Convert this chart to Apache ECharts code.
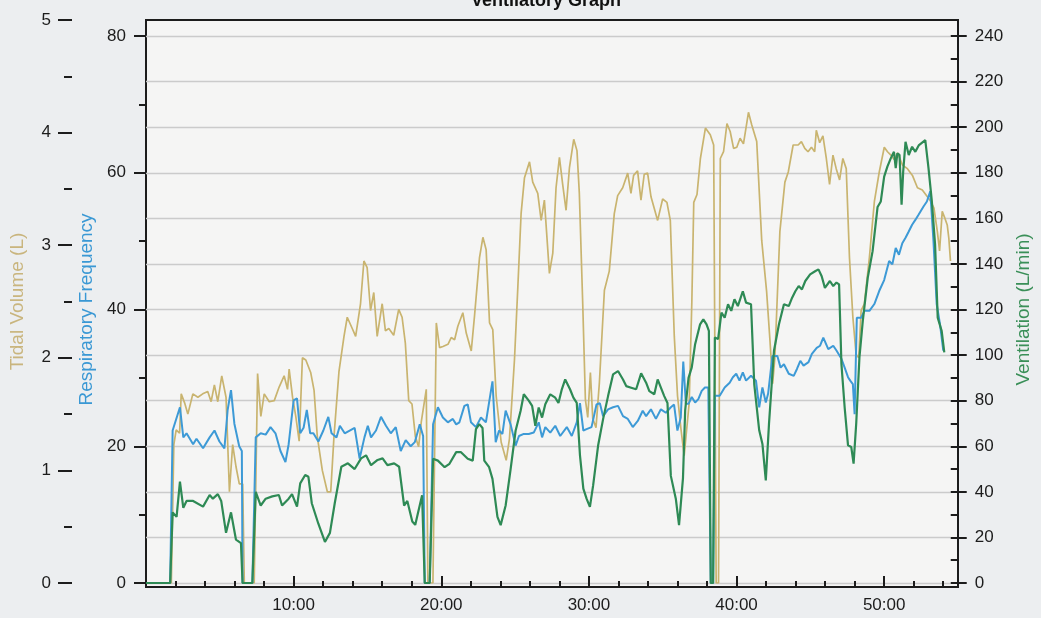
<!DOCTYPE html>
<html><head><meta charset="utf-8">
<script src="https://cdn.jsdelivr.net/npm/echarts@6/dist/echarts.min.js"></script>
<style>html,body{margin:0;padding:0;background:#eceef0}#c{width:1041px;height:618px}</style>
</head><body><div id="c"></div>
<script>
// Time in minutes for each series
const veTime = [0,1.65,1.82,2.09,2.32,2.55,2.77,3.22,3.9,4.35,4.57,4.91,5.14,5.47,5.81,6.15,6.49,6.6,7.27,7.5,7.84,8.18,8.63,9.08,9.3,9.75,9.98,10.32,10.54,10.88,11.1,11.33,11.78,12.23,12.57,12.9,13.35,13.8,14.26,14.7,15.04,15.38,15.83,16.17,16.5,16.96,17.3,17.64,17.86,18.2,18.4,18.6,18.87,19.05,19.39,19.62,19.95,20.41,20.74,21.2,21.53,21.99,22.33,22.55,22.78,23.0,23.12,23.45,23.68,24.02,24.24,24.58,24.92,25.26,25.6,25.82,26.16,26.39,26.61,26.84,27.07,27.29,27.63,27.97,28.19,28.42,28.65,28.98,29.21,29.44,29.66,29.89,30.11,30.34,30.56,30.9,31.24,31.58,31.92,32.26,32.6,32.82,33.16,33.5,33.84,34.18,34.4,34.74,34.97,35.19,35.42,35.64,35.87,36.21,36.43,36.7,36.85,37.08,37.3,37.53,37.87,38.09,38.31,38.47,38.6,38.76,38.88,39.1,39.33,39.55,39.78,40.0,40.22,40.45,40.79,41.01,41.35,41.57,41.91,42.13,42.36,42.58,42.92,43.26,43.6,43.93,44.16,44.38,44.61,44.83,45.06,45.39,45.73,45.96,46.18,46.4,46.74,46.97,47.19,47.37,47.53,47.75,47.98,48.2,48.36,48.54,48.76,48.99,49.33,49.66,50.0,50.22,50.45,50.67,50.9,51.12,51.24,51.35,51.5,51.64,51.75,51.91,52.13,52.36,52.58,52.81,53.26,53.48,53.71,53.93,54.11,54.38,54.56];
const veVals = [0,0,31,29,44.5,33,36,36,33.5,38.6,37,39,36,22,31,19,17.5,0,0,40,34,37,38,38.6,34,37,39,33.5,43.7,47.4,46.6,35,26,18,22,35,51,52.5,50,54.7,56,51.7,54,54.7,51.7,52.5,51,34,36,27,25.5,31,38.5,0,0,54.5,53.7,50.8,52.3,57.4,57.4,54.5,53.7,67.5,69.7,68,53.7,50.8,45.7,29,25.4,34,50,66.8,75.5,82.8,80,77.7,69,77,72.6,78.4,82.8,81.3,79,85,89.3,85,81.3,79,56,41.4,37,33.4,42.8,60.3,71.9,82,91.5,93,89.3,86.4,85.7,85,92,87.9,84.2,82.8,89.3,85.7,82,79,47,37,25.4,46,75.7,90,94.6,104.8,113.5,115.7,113.5,110.6,0,0,107.7,107,118.6,116.4,122.3,119.4,124.5,121.5,128,123,122.3,87.3,67,61,45,69.9,101.9,113.5,122.3,121.5,125.2,128,130.3,128.8,132.5,135.4,136.8,137.6,134.6,129.5,132.5,130.3,131.8,131,96,77,60.4,59.7,52.4,70,99,115,134,145.6,165,167.4,178.3,182.7,186.3,189.2,182,188.5,187.8,166,180.5,193.6,187.8,191.4,189.2,192,194.3,182,167.4,148.5,116.4,110.6,101.2];

const rfTime = [0,1.65,1.82,2.32,2.55,2.77,3.22,3.45,3.9,4.35,4.68,5.02,5.36,5.58,5.81,6.04,6.37,6.55,6.6,7.27,7.5,7.84,8.18,8.51,8.85,9.19,9.53,9.75,10.09,10.32,10.54,10.77,10.99,11.22,11.44,11.78,12.12,12.46,12.68,13.02,13.25,13.58,13.92,14.26,14.6,14.93,15.16,15.38,15.72,16.06,16.4,16.73,17.07,17.41,17.75,18.09,18.37,18.71,18.94,19.05,19.39,19.62,19.95,20.29,20.63,20.97,21.2,21.42,21.76,21.99,22.21,22.55,22.89,23.23,23.68,23.9,24.13,24.36,24.58,24.92,25.26,25.49,25.82,26.16,26.5,26.84,27.07,27.29,27.63,27.97,28.31,28.76,29.1,29.44,29.66,29.89,30.11,30.45,30.79,31.02,31.24,31.58,31.92,32.26,32.6,32.93,33.27,33.61,33.95,34.18,34.51,34.85,35.19,35.53,35.87,36.09,36.32,36.55,36.72,36.9,37.08,37.3,37.53,37.75,37.98,38.2,38.43,38.6,38.76,38.88,39.21,39.55,39.89,40.11,40.34,40.56,40.79,41.01,41.35,41.69,41.91,42.13,42.36,42.52,42.81,43.15,43.37,43.6,43.93,44.27,44.49,44.72,44.94,45.28,45.51,45.84,46.07,46.29,46.63,46.97,47.19,47.53,47.75,47.98,48.13,48.31,48.43,48.58,48.88,49.1,49.44,49.78,50.11,50.45,50.79,51.01,51.24,51.46,51.69,51.91,52.13,52.36,52.58,52.81,53.15,53.37,53.6,53.82,54.04,54.27,54.49];
const rfVals = [0,0,22.3,25.7,21.3,21.9,20.3,21.1,19.7,21.3,22.3,20.7,19.7,25.3,28.2,23.3,20,19.3,0,0,21.3,21.9,21.7,22.8,21.9,19.3,17.7,20.3,26.7,27,21.9,22.7,25.3,21.9,21.9,20.7,22.3,24.3,21.9,21.3,23,21.9,22.3,22.7,18.2,21.3,23,21.3,22.3,24.3,23,21.9,22.8,19.3,20.9,20,20.6,23.2,21.5,0,0,23.2,25.7,24.2,23.5,24,23.2,23.5,25.9,26.1,23.5,22.8,24.2,23.5,29.5,20.6,22.3,21.8,25.2,23.2,20.1,21.5,21.8,21.8,22,23.5,21.3,22.8,22,23,21.5,22.8,21.5,23.5,26.3,22.3,22.5,22.8,26.1,26.3,24.4,25.4,25.7,25.9,24.4,24,22.8,23.7,25.2,24.4,25.4,24,25.4,24.9,25.7,26.1,22.3,24.2,32.4,26.2,26.2,27.2,26.4,26.9,28.1,28.6,28.6,0,0,27.4,27.4,28.6,29.3,30.1,30.6,29.6,30.8,29.6,30.3,29.6,25.7,28.6,26.4,27.7,33.2,33.2,31.5,32,30.6,30.3,31.3,32.5,31.8,32.3,33.5,34.4,34.7,35.9,34.2,34.7,34,32.8,31.5,30.1,29.6,29.1,24.7,38.8,38.8,39.8,39.8,40.8,42.7,44.3,47.1,46.6,49,48,49.7,50.5,51.4,52.4,53.1,53.9,55.1,55.8,57.3,50,40.8,37.8,34];

const tvTime = [0,1.65,1.82,1.98,2.21,2.32,2.55,2.77,3.11,3.45,3.78,4.12,4.35,4.57,4.8,5.07,5.36,5.59,5.81,6.04,6.26,6.49,6.6,7.27,7.5,7.72,7.95,8.29,8.63,8.96,9.3,9.53,9.64,9.87,10.09,10.32,10.54,10.77,11.1,11.33,11.55,11.89,12.23,12.46,12.68,13.02,13.36,13.58,13.92,14.15,14.48,14.71,14.93,15.16,15.38,15.61,15.95,16.17,16.4,16.73,17.07,17.3,17.52,17.75,17.97,18.2,18.42,18.6,18.94,19.05,19.39,19.62,19.84,20.07,20.41,20.63,20.86,21.08,21.42,21.65,21.99,22.21,22.55,22.78,23.0,23.23,23.45,23.68,24.02,24.36,24.58,24.92,25.15,25.37,25.6,25.94,26.16,26.5,26.73,26.95,27.29,27.52,27.74,27.97,28.19,28.42,28.65,28.94,29.16,29.32,29.55,29.73,29.89,30.07,30.23,30.45,30.68,31.02,31.35,31.69,31.92,32.26,32.6,32.82,33.0,33.27,33.5,33.72,33.95,34.18,34.63,34.97,35.26,35.49,35.76,35.98,36.21,36.43,36.77,36.95,37.08,37.3,37.53,37.87,38.2,38.43,38.6,38.76,38.88,39.1,39.33,39.55,39.78,40.0,40.22,40.45,40.79,41.01,41.35,41.69,42.02,42.25,42.43,42.58,42.92,43.26,43.49,43.82,44.16,44.38,44.61,44.83,45.06,45.28,45.39,45.62,45.84,46.07,46.29,46.52,46.74,46.97,47.19,47.42,47.64,47.87,48.09,48.27,48.43,48.65,48.99,49.33,49.66,50.0,50.22,50.45,50.67,50.9,51.24,51.57,51.91,52.25,52.58,52.81,53.15,53.37,53.6,53.75,53.93,54.11,54.27,54.38,54.49];
const tvVals = [0,0,1.23,1.36,1.33,1.68,1.6,1.5,1.68,1.65,1.68,1.7,1.61,1.76,1.61,1.84,1.65,0.81,1.23,1.03,0.88,0.88,0,0,1.86,1.48,1.68,1.61,1.62,1.74,1.84,1.72,1.9,1.65,1.48,1.26,2.0,1.98,1.87,1.71,1.3,1.0,0.81,0.81,1.3,1.88,2.19,2.36,2.26,2.19,2.48,2.86,2.8,2.42,2.58,2.19,2.48,2.24,2.26,2.2,2.43,2.36,2.13,1.62,1.59,1.3,1.21,1.43,1.72,0,0,2.31,2.09,2.1,2.12,2.18,2.16,2.28,2.4,2.22,2.06,2.37,2.89,3.07,2.96,2.31,2.25,1.66,1.25,1.09,1.28,1.98,2.63,3.28,3.6,3.74,3.56,3.46,3.22,3.4,2.75,2.93,3.51,3.78,3.54,3.31,3.69,3.94,3.84,3.46,2.48,1.63,1.47,1.87,1.46,1.38,1.78,2.6,2.77,3.28,3.44,3.51,3.64,3.46,3.62,3.66,3.4,3.63,3.64,3.43,3.22,3.41,3.38,3.22,2.19,1.66,1.37,1.13,1.6,2.5,3.38,3.45,3.77,4.04,3.98,3.89,0,0,3.77,3.83,4.08,4.01,3.86,3.87,3.95,3.9,4.18,4.07,3.92,3.04,2.59,2.15,1.77,2.0,3.12,3.56,3.65,3.89,3.89,3.92,3.86,3.83,3.87,3.83,4.02,3.91,3.97,3.77,3.54,3.8,3.68,3.58,3.77,3.68,2.89,2.36,2.03,2.0,2.42,2.48,2.89,3.39,3.65,3.87,3.83,3.8,3.76,3.82,3.71,3.68,3.62,3.51,3.49,3.45,3.39,3.33,3.12,2.95,3.3,3.24,3.18,3.06,2.86];

const timeLabels = ['10:00','20:00','30:00','40:00','50:00'];

const pair = (t, v) => t.map((x, i) => [x, v[i]]);
const FONT = '"Liberation Sans", Arial, sans-serif';
const INK = '#1c1c1c';
const tickStyle = {color: INK, width: 2};
const labelStyle = {fontSize: 17, color: INK, fontFamily: FONT};

const chart = echarts.init(document.getElementById('c'));
chart.setOption({
  animation: false,
  backgroundColor: '#eceef0',
  title: {text: 'Ventilatory Graph', left: 466, top: -13,
    textStyle: {fontFamily: FONT, fontSize: 18, fontWeight: 'bold', color: '#111'}},
  grid: [
    {left: 146, right: 83, top: 20, bottom: 31, show: true, borderColor: INK, borderWidth: 2, backgroundColor: '#f5f5f4'},
    {left: 146, right: 83, top: 36, bottom: 35},
    {left: 146, right: 83, top: 20, bottom: 35}
  ],
  xAxis: [
    {gridIndex: 0, type: 'value', position: 'bottom', min: 0, max: 55, interval: 10,
      axisLine: {show: true, onZero: false, lineStyle: {color: INK, width: 2}},
      axisTick: {show: true, inside: true, length: 11, lineStyle: tickStyle},
      axisLabel: Object.assign({margin: 10, showMaxLabel: false,
        formatter: v => (v > 0 && v % 10 === 0 && v <= 50) ? timeLabels[v / 10 - 1] : ''}, labelStyle),
      splitLine: {show: false}},
    {gridIndex: 0, type: 'value', position: 'bottom', min: 0, max: 55, interval: 2,
      axisLine: {show: false, onZero: false},
      axisTick: {show: true, inside: true, length: 6, lineStyle: tickStyle},
      axisLabel: {show: false}, splitLine: {show: false}},
    {gridIndex: 1, type: 'value', min: 0, max: 55, show: false},
    {gridIndex: 2, type: 'value', min: 0, max: 55, show: false}
  ],
  yAxis: [
    {gridIndex: 1, type: 'value', min: 0, max: 80, interval: 20, position: 'left',
      name: 'Respiratory Frequency', nameLocation: 'middle', nameGap: 48,
      nameTextStyle: {color: '#3a98d4', fontSize: 19, fontFamily: FONT},
      axisLine: {show: false, onZero: false},
      axisTick: {show: true, length: 12, lineStyle: tickStyle},
      minorTick: {show: true, splitNumber: 2, length: 7, lineStyle: tickStyle},
      axisLabel: Object.assign({margin: 20}, labelStyle),
      splitLine: {show: false}},
    {gridIndex: 1, type: 'value', min: 0, max: 240, interval: 20, position: 'right',
      name: 'Ventilation (L/min)', nameLocation: 'middle', nameGap: 61,
      nameTextStyle: {color: '#3a8f58', fontSize: 19, fontFamily: FONT},
      axisLine: {show: false, onZero: false},
      axisTick: {show: true, length: 16, lineStyle: tickStyle},
      minorTick: {show: true, splitNumber: 2, length: 8, lineStyle: tickStyle},
      axisLabel: Object.assign({margin: 24}, labelStyle),
      splitLine: {show: true, lineStyle: {color: '#cbcbcb', width: 1.3}}},
    {gridIndex: 2, type: 'value', min: 0, max: 5, interval: 1, position: 'left', offset: 75,
      name: 'Tidal Volume (L)', nameLocation: 'middle', nameGap: 45,
      nameTextStyle: {color: '#c9b57e', fontSize: 19, fontFamily: FONT},
      axisLine: {show: false, onZero: false},
      axisTick: {show: true, length: 14, lineStyle: tickStyle},
      minorTick: {show: true, splitNumber: 2, length: 8, lineStyle: tickStyle},
      axisLabel: Object.assign({margin: 21}, labelStyle),
      splitLine: {show: false}},
    {gridIndex: 0, type: 'value', min: 0, max: 1, show: false}
  ],
  series: [
    {name: 'Tidal Volume', type: 'line', xAxisIndex: 3, yAxisIndex: 2, data: pair(tvTime, tvVals),
      symbol: 'none', showSymbol: false, lineStyle: {color: '#c9b46f', width: 1.7}, itemStyle: {color: '#c9b46f'}},
    {name: 'Respiratory Frequency', type: 'line', xAxisIndex: 2, yAxisIndex: 0, data: pair(rfTime, rfVals),
      symbol: 'none', showSymbol: false, lineStyle: {color: '#3d9ad6', width: 2}, itemStyle: {color: '#3d9ad6'}},
    {name: 'Ventilation', type: 'line', xAxisIndex: 2, yAxisIndex: 1, data: pair(veTime, veVals),
      symbol: 'none', showSymbol: false, lineStyle: {color: '#2e8a55', width: 2.2}, itemStyle: {color: '#2e8a55'}}
  ]
});
</script></body></html>
